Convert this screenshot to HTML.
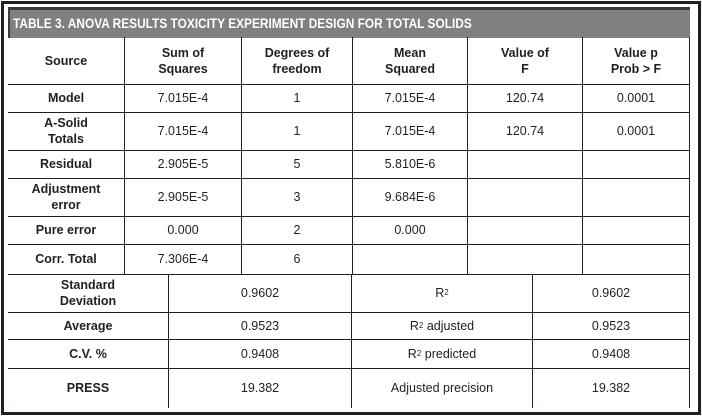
<!DOCTYPE html>
<html><head><meta charset="utf-8">
<style>
html,body{margin:0;padding:0;background:#fff;}
#root{position:relative;width:702px;height:416px;overflow:hidden;background:#fff;font-family:"Liberation Sans",sans-serif;color:#231f20;}
.frame{position:absolute;left:1px;top:1px;width:694px;height:408px;border:3px solid #231f20;}
.title{position:absolute;left:8px;top:7px;width:680px;height:28px;background:#808080;border-top:3px solid #3a3a3a;border-left:2px solid #3a3a3a;}
.title span{position:absolute;left:3px;top:6px;color:#fff;font-weight:bold;font-size:13.5px;white-space:nowrap;transform:scaleX(0.88);transform-origin:left center;}
.h{position:absolute;height:1px;background:#231f20;left:8px;width:682px;}
.v{position:absolute;width:1px;background:#231f20;}
.c{position:absolute;display:flex;align-items:center;justify-content:center;text-align:center;font-size:12.5px;line-height:16px;}
.b{font-weight:bold;}
sup{font-size:8px;vertical-align:5px;line-height:0;}
</style></head><body>
<div id="root">
<div class="frame"></div>
<div class="title"><span><b>TABLE 3</b>. ANOVA RESULTS TOXICITY EXPERIMENT DESIGN FOR TOTAL SOLIDS</span></div>

<div class="h" style="top:84px"></div>
<div class="h" style="top:112px"></div>
<div class="h" style="top:150px"></div>
<div class="h" style="top:178px"></div>
<div class="h" style="top:216px"></div>
<div class="h" style="top:244px"></div>
<div class="h" style="top:274px"></div>
<div class="h" style="top:312px"></div>
<div class="h" style="top:339px"></div>
<div class="h" style="top:368px"></div>

<div class="v" style="left:124px;top:37px;height:237px"></div>
<div class="v" style="left:241px;top:37px;height:237px"></div>
<div class="v" style="left:352px;top:37px;height:237px"></div>
<div class="v" style="left:467px;top:37px;height:237px"></div>
<div class="v" style="left:582px;top:37px;height:237px"></div>
<div class="v" style="left:689px;top:37px;height:371px"></div>
<div class="v" style="left:168px;top:274px;height:134px"></div>
<div class="v" style="left:351px;top:274px;height:134px"></div>
<div class="v" style="left:532px;top:274px;height:134px"></div>

<div class="c b" style="left:8px;width:116px;top:37px;height:47px">Source</div>
<div class="c b" style="left:125px;width:116px;top:37px;height:47px">Sum of<br>Squares</div>
<div class="c b" style="left:242px;width:110px;top:37px;height:47px">Degrees of<br>freedom</div>
<div class="c b" style="left:353px;width:114px;top:37px;height:47px">Mean<br>Squared</div>
<div class="c b" style="left:468px;width:114px;top:37px;height:47px">Value of<br>F</div>
<div class="c b" style="left:583px;width:106px;top:37px;height:47px">Value p<br>Prob &gt; F</div>

<div class="c b" style="left:8px;width:116px;top:84px;height:28px">Model</div>
<div class="c" style="left:125px;width:116px;top:84px;height:28px">7.015E-4</div>
<div class="c" style="left:242px;width:110px;top:84px;height:28px">1</div>
<div class="c" style="left:353px;width:114px;top:84px;height:28px">7.015E-4</div>
<div class="c" style="left:468px;width:114px;top:84px;height:28px">120.74</div>
<div class="c" style="left:583px;width:106px;top:84px;height:28px">0.0001</div>

<div class="c b" style="left:8px;width:116px;top:112px;height:38px">A-Solid<br>Totals</div>
<div class="c" style="left:125px;width:116px;top:112px;height:38px">7.015E-4</div>
<div class="c" style="left:242px;width:110px;top:112px;height:38px">1</div>
<div class="c" style="left:353px;width:114px;top:112px;height:38px">7.015E-4</div>
<div class="c" style="left:468px;width:114px;top:112px;height:38px">120.74</div>
<div class="c" style="left:583px;width:106px;top:112px;height:38px">0.0001</div>

<div class="c b" style="left:8px;width:116px;top:150px;height:28px">Residual</div>
<div class="c" style="left:125px;width:116px;top:150px;height:28px">2.905E-5</div>
<div class="c" style="left:242px;width:110px;top:150px;height:28px">5</div>
<div class="c" style="left:353px;width:114px;top:150px;height:28px">5.810E-6</div>

<div class="c b" style="left:8px;width:116px;top:178px;height:38px">Adjustment<br>error</div>
<div class="c" style="left:125px;width:116px;top:178px;height:38px">2.905E-5</div>
<div class="c" style="left:242px;width:110px;top:178px;height:38px">3</div>
<div class="c" style="left:353px;width:114px;top:178px;height:38px">9.684E-6</div>

<div class="c b" style="left:8px;width:116px;top:216px;height:28px">Pure error</div>
<div class="c" style="left:125px;width:116px;top:216px;height:28px">0.000</div>
<div class="c" style="left:242px;width:110px;top:216px;height:28px">2</div>
<div class="c" style="left:353px;width:114px;top:216px;height:28px">0.000</div>

<div class="c b" style="left:8px;width:116px;top:244px;height:30px">Corr. Total</div>
<div class="c" style="left:125px;width:116px;top:244px;height:30px">7.306E-4</div>
<div class="c" style="left:242px;width:110px;top:244px;height:30px">6</div>

<div class="c b" style="left:8px;width:160px;top:274px;height:38px">Standard<br>Deviation</div>
<div class="c" style="left:169px;width:182px;top:274px;height:38px">0.9602</div>
<div class="c" style="left:352px;width:180px;top:274px;height:38px">R<sup>2</sup></div>
<div class="c" style="left:533px;width:156px;top:274px;height:38px">0.9602</div>

<div class="c b" style="left:8px;width:160px;top:312px;height:27px">Average</div>
<div class="c" style="left:169px;width:182px;top:312px;height:27px">0.9523</div>
<div class="c" style="left:352px;width:180px;top:312px;height:27px">R<sup>2</sup>&nbsp;adjusted</div>
<div class="c" style="left:533px;width:156px;top:312px;height:27px">0.9523</div>

<div class="c b" style="left:8px;width:160px;top:339px;height:29px">C.V. %</div>
<div class="c" style="left:169px;width:182px;top:339px;height:29px">0.9408</div>
<div class="c" style="left:352px;width:180px;top:339px;height:29px">R<sup>2</sup>&nbsp;predicted</div>
<div class="c" style="left:533px;width:156px;top:339px;height:29px">0.9408</div>

<div class="c b" style="left:8px;width:160px;top:368px;height:40px">PRESS</div>
<div class="c" style="left:169px;width:182px;top:368px;height:40px">19.382</div>
<div class="c" style="left:352px;width:180px;top:368px;height:40px">Adjusted precision</div>
<div class="c" style="left:533px;width:156px;top:368px;height:40px">19.382</div>
</div>
</body></html>
